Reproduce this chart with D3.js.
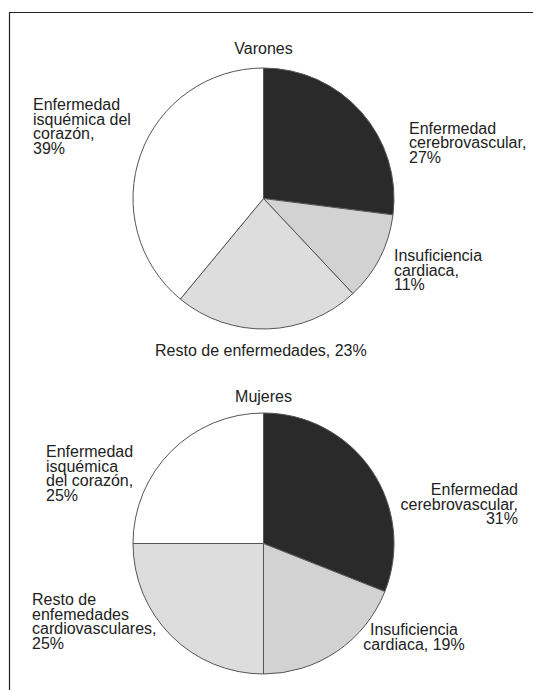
<!DOCTYPE html>
<html>
<head>
<meta charset="utf-8">
<script src="https://cdn.jsdelivr.net/npm/d3@7"></script>
<style>
  body { margin: 0; background: #fff; }
  svg text { font-family: "Liberation Sans", Arial, sans-serif; font-size: 16px; fill: #222; }
</style>
</head>
<body>
<div id="chart"></div>
<script>
// categories, in drawing order (clockwise from 12 o'clock)
const categories = ['cerebrovascular', 'insuficiencia', 'resto', 'isquemica'];
const colors = ['#2a2a2a', '#d2d2d2', '#dddddd', '#ffffff'];

// Varones
const varonesValues = [27, 11, 23, 39];
const varonesLabels = [
  ['Enfermedad', 'cerebrovascular,', '27%'],
  ['Insuficiencia', 'cardiaca,', '11%'],
  ['Resto de enfermedades, 23%'],
  ['Enfermedad', 'isquémica del', 'corazón,', '39%']
];

// Mujeres
const mujeresValues = [31, 19, 25, 25];
const mujeresLabels = [
  ['Enfermedad', 'cerebrovascular,', '31%'],
  ['Insuficiencia', 'cardiaca, 19%'],
  ['Resto de', 'enfemedades', 'cardiovasculares,', '25%'],
  ['Enfermedad', 'isquémica', 'del corazón,', '25%']
];

const width = 533, height = 690;
const lineH = 14.7;

const svg = d3.select('#chart').append('svg')
  .attr('width', width)
  .attr('height', height);

// frame: top and left edges only
svg.append('path')
  .attr('d', `M9.5,${height} V12.5 H${width}`)
  .attr('fill', 'none')
  .attr('stroke', '#222')
  .attr('stroke-width', 1.2);

const pie = d3.pie().sort(null).value(d => d);
const radius = 130.5;
const arc = d3.arc().innerRadius(0).outerRadius(radius);

function drawPie(title, values, labels, cx, cy, titleY, labelPos) {
  const g = svg.append('g').attr('transform', `translate(${cx},${cy})`);

  g.selectAll('path')
    .data(pie(values))
    .join('path')
    .attr('d', arc)
    .attr('fill', (d, i) => colors[i])
    .attr('stroke', '#555')
    .attr('stroke-width', 1);

  svg.append('text')
    .attr('x', cx)
    .attr('y', titleY)
    .attr('text-anchor', 'middle')
    .text(title);

  labels.forEach((lines, i) => {
    const p = labelPos[i];
    const t = svg.append('text')
      .attr('text-anchor', p.anchor)
      .attr('x', p.x)
      .attr('y', p.y);
    lines.forEach((line, j) => {
      t.append('tspan')
        .attr('x', p.x)
        .attr('y', p.y + j * lineH)
        .text(line);
    });
  });
}

drawPie('Varones', varonesValues, varonesLabels, 263.5, 198.5, 54, [
  { x: 409, y: 133.5, anchor: 'start' },
  { x: 394, y: 261, anchor: 'start' },
  { x: 155, y: 356, anchor: 'start' },
  { x: 33, y: 110, anchor: 'start' }
]);

drawPie('Mujeres', mujeresValues, mujeresLabels, 263.5, 543.5, 402, [
  { x: 518, y: 495, anchor: 'end' },
  { x: 414, y: 635, anchor: 'middle' },
  { x: 32, y: 605, anchor: 'start' },
  { x: 46, y: 457, anchor: 'start' }
]);
</script>
</body>
</html>
